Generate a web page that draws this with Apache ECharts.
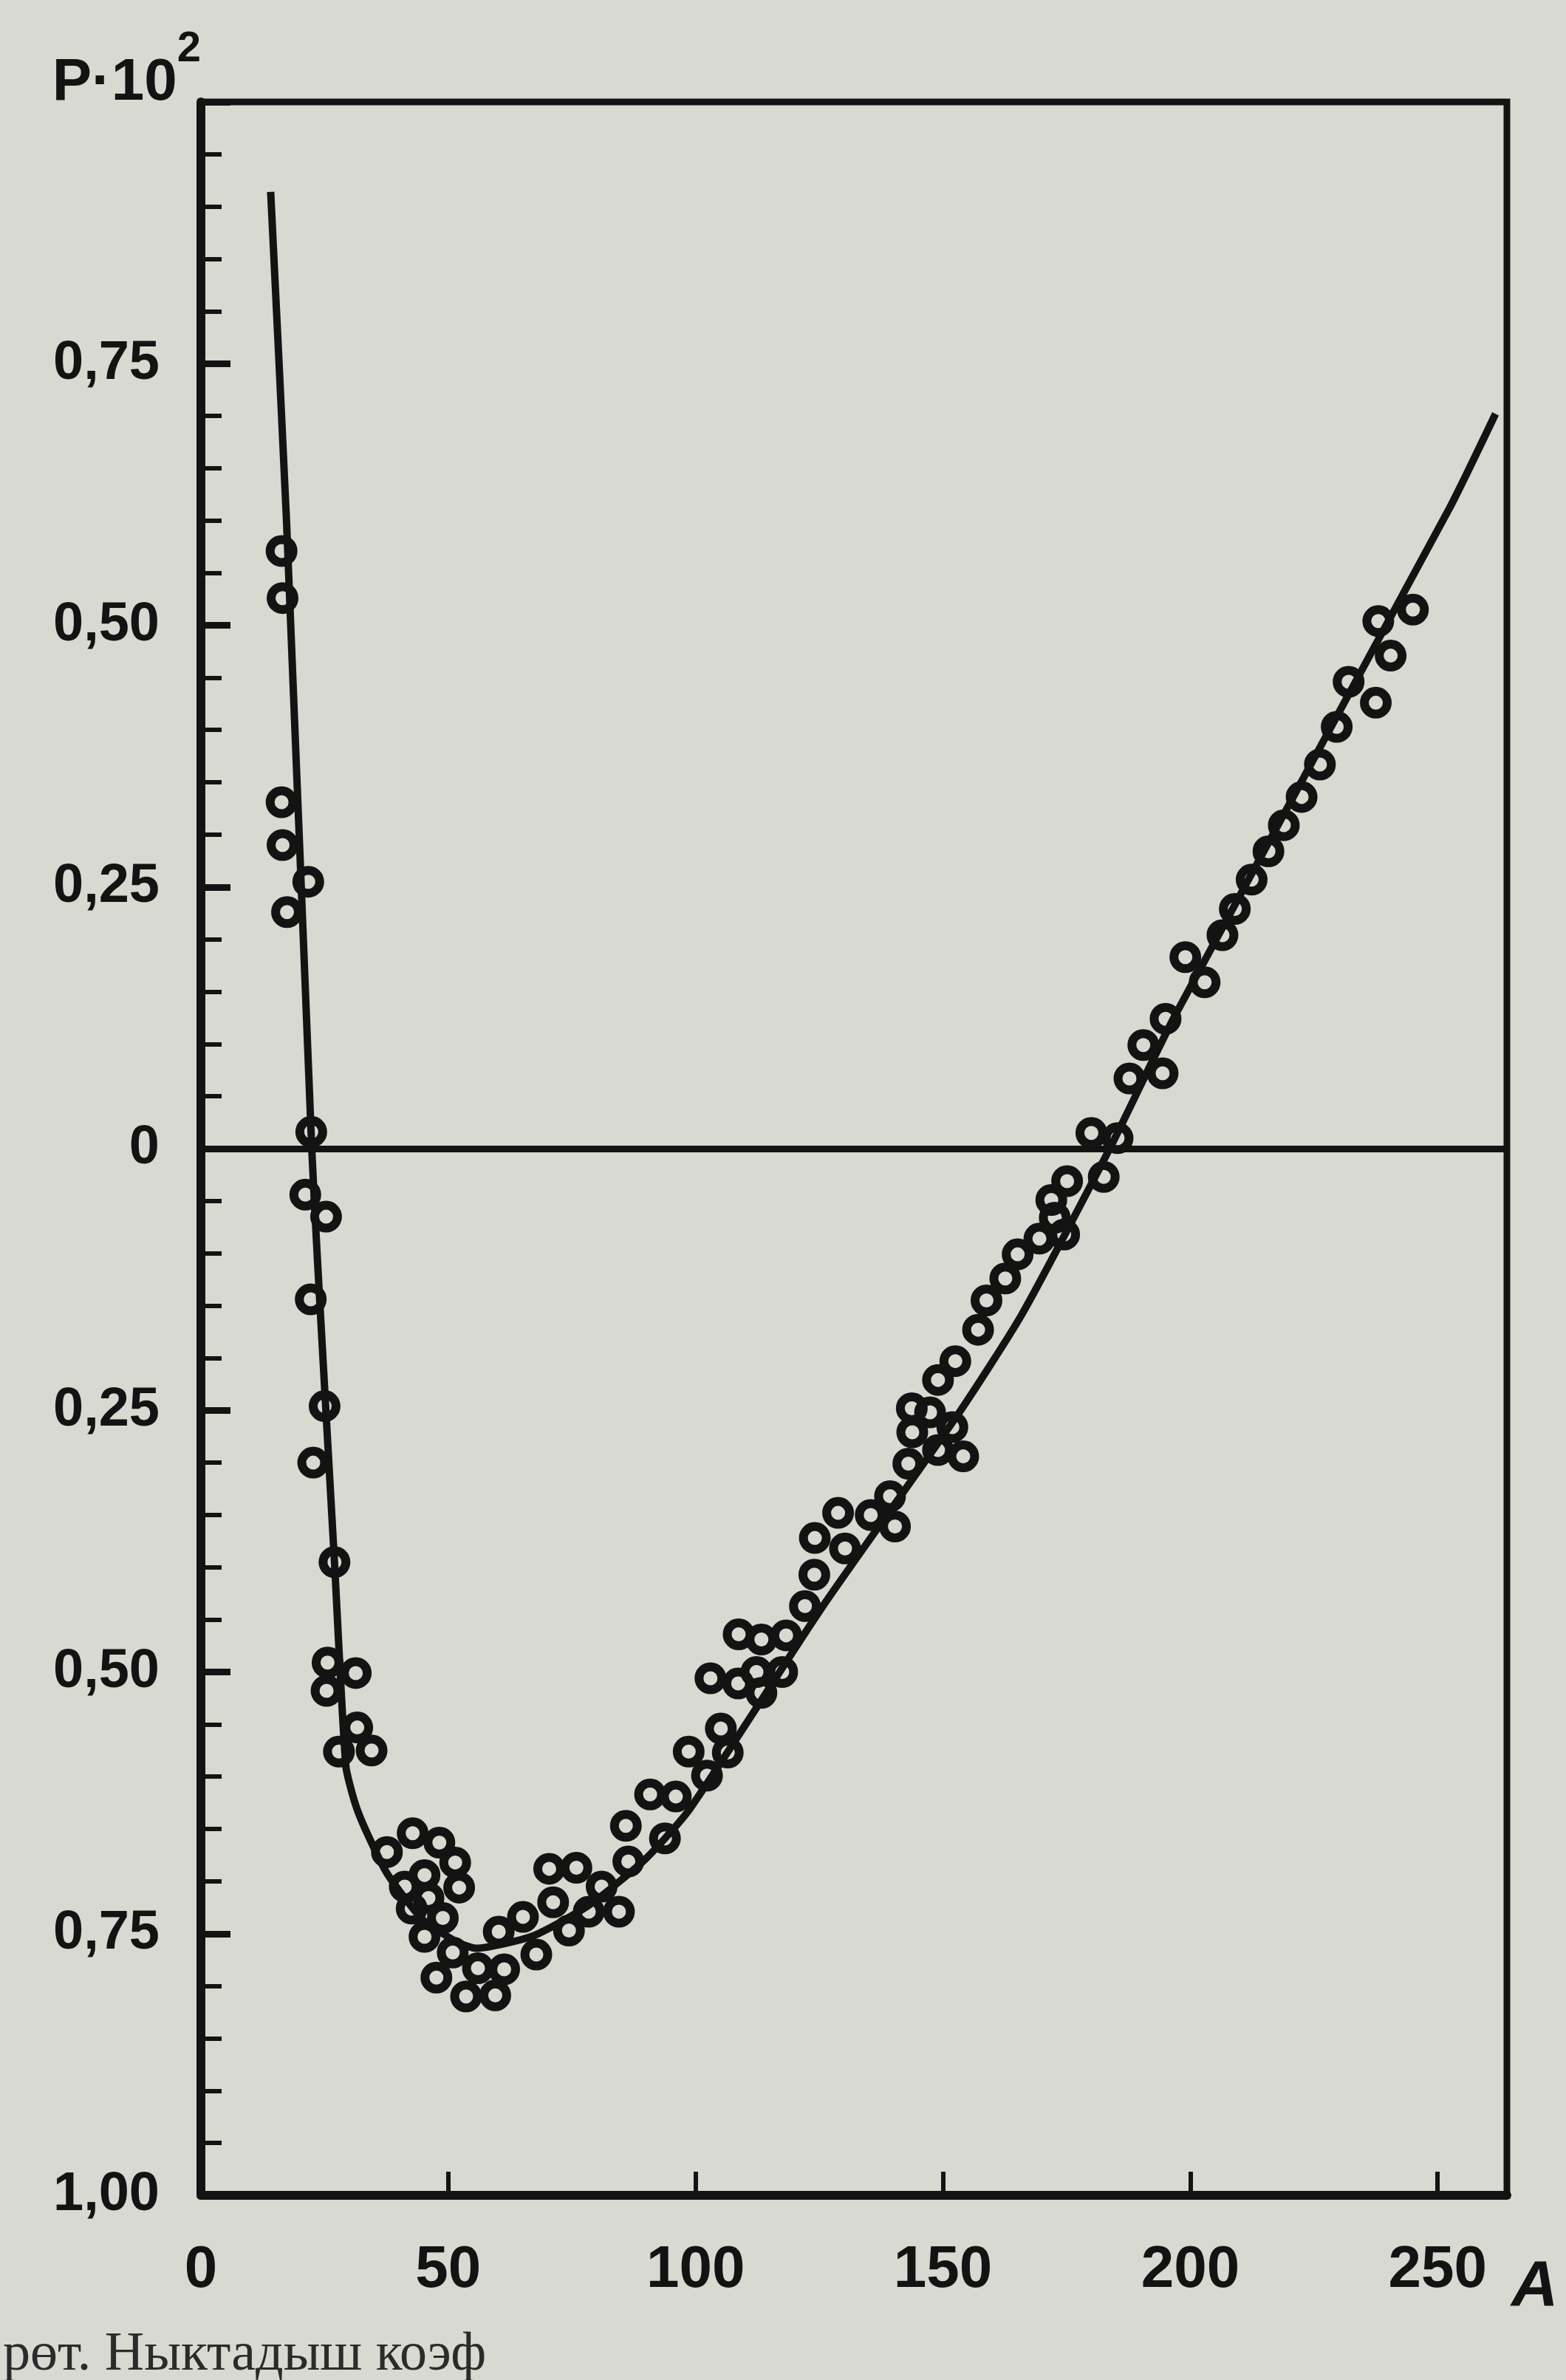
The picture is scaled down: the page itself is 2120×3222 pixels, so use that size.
<!DOCTYPE html>
<html><head><meta charset="utf-8">
<script src="https://cdn.jsdelivr.net/npm/echarts@6/dist/echarts.min.js"></script>
<style>html,body{margin:0;padding:0;background:#d8d9d1;} #c{width:2120px;height:3222px;}</style>
</head><body><div id="c"></div>
<script>
// ---- data (A = mass number, P = packing fraction ×10²) ----
const curveA = [14.1, 17.3, 22.4, 23.6, 25.2, 27.0, 29.3, 31.2, 33.4, 37.7, 44.9, 51.8, 55.6, 67.2, 78.4, 89.8, 98.8, 125.6, 153.3, 166.0, 183.7, 197.0, 252.3, 261.7];
const curveP = [0.914, 0.600, 0.000, -0.110, -0.245, -0.395, -0.590, -0.626, -0.652, -0.693, -0.737, -0.758, -0.764, -0.752, -0.723, -0.679, -0.631, -0.438, -0.252, -0.158, 0.000, 0.128, 0.611, 0.702];

const pointA = [16.3, 16.5, 16.3, 16.5, 21.7, 17.4, 22.3, 21.1, 25.3, 22.2, 25.0, 22.7, 27.0, 25.6, 25.4, 31.3, 31.6, 27.9, 34.5,
  37.6, 42.8, 48.2, 51.4, 45.2, 41.2, 52.2, 46.0, 42.6, 48.9, 45.2, 50.9, 47.6, 53.6, 59.5, 56.0, 61.3, 60.2, 65.1, 67.8,
  71.2, 70.4, 75.9, 74.4, 78.4, 81.0, 84.5, 86.4, 85.9, 90.8, 93.8, 96.0, 98.6,
  102.3, 105.1, 106.5, 103.0, 108.6, 112.3, 113.3, 117.5, 108.7, 113.3, 118.3, 122.1, 124.0, 124.1, 128.8, 130.2, 135.4,
  140.3, 139.3, 143.0, 143.8, 143.7, 147.4, 151.9, 149.0, 154.1, 149.0, 152.5, 157.1,
  158.8, 162.6, 165.1, 169.5, 172.6, 174.5, 171.9, 175.1, 182.5, 180.0, 185.3, 187.7, 194.4, 190.5, 195.0,
  202.9, 199.0, 206.5, 209.0, 212.4, 215.8, 218.9, 222.5, 226.2, 229.6, 237.5, 232.0, 240.5, 238.0, 245.0];
const pointP = [0.571, 0.526, 0.331, 0.290, 0.255, 0.226, 0.016, -0.044, -0.065, -0.144, -0.246, -0.300, -0.395, -0.491, -0.518, -0.501, -0.553, -0.576, -0.575,
  -0.672, -0.654, -0.663, -0.682, -0.694, -0.705, -0.706, -0.716, -0.726, -0.735, -0.753, -0.768, -0.792, -0.810, -0.809, -0.783, -0.784, -0.748, -0.734, -0.770,
  -0.720, -0.688, -0.687, -0.747, -0.729, -0.705, -0.729, -0.681, -0.647, -0.617, -0.659, -0.619, -0.576,
  -0.599, -0.554, -0.577, -0.506, -0.511, -0.500, -0.520, -0.500, -0.464, -0.469, -0.465, -0.437, -0.407, -0.372, -0.348, -0.382, -0.350,
  -0.361, -0.332, -0.301, -0.271, -0.248, -0.252, -0.266, -0.288, -0.294, -0.221, -0.203, -0.173,
  -0.145, -0.124, -0.101, -0.086, -0.066, -0.082, -0.049, -0.031, -0.027, 0.015, 0.010, 0.067, 0.072, 0.099, 0.124,
  0.159, 0.183, 0.204, 0.229, 0.257, 0.284, 0.309, 0.336, 0.367, 0.403, 0.426, 0.446, 0.471, 0.504, 0.515];

const xTickValues = [0, 50, 100, 150, 200, 250];
const xTickLabels = ['0', '50', '100', '150', '200', '250'];
const yTickValues = [-1, -0.75, -0.5, -0.25, 0, 0.25, 0.5, 0.75];
const yTickLabels = ['1,00', '0,75', '0,50', '0,25', '0', '0,25', '0,50', '0,75'];
const xAxisTitle = 'A';
const yAxisTitleMain = 'P·10';
const yAxisTitleSup = '2';
const captionText = 'рөт. Ныктадыш коэф';

// ---- chart ----
const INK = '#131313';
const FONT = "'Liberation Sans', 'Noto Sans', sans-serif";
function lookup(vals, labels, v) {
  for (let i = 0; i < vals.length; i++) if (Math.abs(vals[i] - v) < 1e-6) return labels[i];
  return '';
}
const curveData = curveA.map((a, i) => [a, curveP[i]]);
const pointData = pointA.map((a, i) => [a, pointP[i]]);

const chart = echarts.init(document.getElementById('c'), null, {renderer: 'canvas'});
chart.setOption({
  animation: false,
  backgroundColor: '#d8d9d1',
  grid: {left: 272, right: 80, top: 138, bottom: 232, show: true, borderColor: INK, borderWidth: 9, backgroundColor: 'transparent'},
  xAxis: {
    type: 'value', min: 0, max: 264, interval: 50,
    axisLine: {show: true, onZero: false, lineStyle: {color: INK, width: 12}},
    axisTick: {show: true, inside: true, length: 32, lineStyle: {color: INK, width: 6}},
    splitLine: {show: false},
    axisLabel: {margin: 62, fontSize: 80, fontFamily: FONT, fontWeight: 'bold', color: INK, showMaxLabel: false,
      formatter: v => lookup(xTickValues, xTickLabels, v)},
    name: xAxisTitle, nameLocation: 'end', nameGap: 6,
    nameTextStyle: {fontSize: 88, fontFamily: FONT, fontStyle: 'italic', fontWeight: 'bold', color: INK,
      align: 'left', verticalAlign: 'top', lineHeight: 250}
  },
  yAxis: {
    type: 'value', min: -1, max: 1, interval: 0.25,
    axisLine: {show: true, onZero: false, lineStyle: {color: INK, width: 12}},
    axisTick: {show: true, inside: true, length: 40, lineStyle: {color: INK, width: 9}},
    minorTick: {show: true, splitNumber: 5, length: 28, lineStyle: {color: INK, width: 6}},
    splitLine: {show: false}, minorSplitLine: {show: false},
    axisLabel: {margin: 56, fontSize: 74, fontFamily: FONT, fontWeight: 'bold', color: INK, showMaxLabel: false,
      formatter: v => lookup(yTickValues, yTickLabels, v)},
    name: '{m|' + yAxisTitleMain + '}{s|' + yAxisTitleSup + '}', nameLocation: 'end', nameGap: -50,
    nameTextStyle: {align: 'right', verticalAlign: 'bottom',
      rich: {
        m: {fontSize: 80, fontFamily: FONT, fontWeight: 'bold', color: INK, lineHeight: 150, verticalAlign: 'middle'},
        s: {fontSize: 58, fontFamily: FONT, fontWeight: 'bold', color: INK, lineHeight: 58, verticalAlign: 'top'}
      }}
  },
  graphic: [{
    type: 'text', left: 4, top: 3152,
    style: {text: captionText, font: "74px 'Liberation Serif', serif", fill: '#2b2b2b'}
  }],
  series: [
    {
      type: 'line', data: curveData, smooth: 0.2, showSymbol: false,
      lineStyle: {color: INK, width: 10}, z: 2,
      markLine: {silent: true, symbol: ['none', 'none'], label: {show: false},
        lineStyle: {color: INK, width: 9, type: 'solid'}, data: [{yAxis: 0}]}
    },
    {
      type: 'scatter', data: pointData, symbol: 'circle', symbolSize: 31,
      itemStyle: {color: 'rgba(0,0,0,0)', borderColor: INK, borderWidth: 12, opacity: 1}, z: 3
    }
  ]
});
</script></body></html>
